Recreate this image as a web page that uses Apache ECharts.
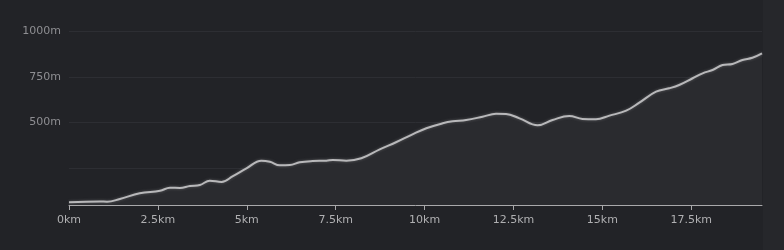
<!DOCTYPE html>
<html><head><meta charset="utf-8">
<script src="https://cdn.jsdelivr.net/npm/echarts@6/dist/echarts.min.js"></script>
<style>
html,body{margin:0;padding:0;background:#26272b;}
#c{width:763px;height:250px;background:#222327;}
</style></head>
<body><div id="c"></div>
<script>
const distanceKm = [0,0.87,1.07,1.43,1.99,2.56,2.84,3.12,3.40,3.68,3.96,4.29,4.61,4.99,5.41,5.65,5.93,6.21,6.49,6.85,7.24,7.42,7.80,8.22,8.74,9.21,9.66,10.05,10.51,10.79,11.17,11.63,12.01,12.29,12.67,13.18,13.60,14.07,14.44,14.82,15.20,15.67,16.04,16.51,16.88,17.16,17.54,17.82,18.10,18.38,18.66,18.94,19.22,19.49];
const elevationM = [65,69,68,83,114,128,144,143,154,159,183,176,208,250,292,286,267,268,283,290,292,296,292,305,354,394,436,469,496,507,514,532,548,547,523,485,514,536,520,518,538,565,609,669,687,705,742,769,787,814,820,842,854,878];
const yGridValues = [250,500,750,1000];
const yLabelValues = [500,750,1000];
const xTickKm = [0,2.5,5,7.5,10,12.5,15,17.5];

const data = distanceKm.map((d,i)=>[d,elevationM[i]]);
const chart = echarts.init(document.getElementById('c'));
chart.setOption({
  backgroundColor:'#222327',
  animation:false,
  grid:{left:69,right:1,top:31,bottom:45},
  xAxis:{type:'value',min:0,max:19.49,
    axisLine:{lineStyle:{color:'#a9a9ab',width:1}},
    axisTick:{show:true,length:5,lineStyle:{color:'#a9a9ab'},customValues:xTickKm},
    axisLabel:{color:'#b0b0b2',fontSize:11,fontFamily:'DejaVu Sans',margin:10,customValues:xTickKm,
      formatter:v=> v+'km'},
    splitLine:{show:false}},
  yAxis:{type:'value',min:50,max:1000,
    axisLine:{show:false},axisTick:{show:false},
    axisLabel:{color:'#8e8e92',fontSize:11,fontFamily:'DejaVu Sans',margin:8,customValues:yLabelValues,
      formatter:v=> v+'m'},
    splitLine:{show:false}},
  series:[
    {type:'line',data:[],z:0,silent:true,
      markLine:{z:0,silent:true,symbol:'none',label:{show:false},animation:false,
        lineStyle:{color:'#2d2e33',width:1,type:'solid'},
        data:yGridValues.map(v=>({yAxis:v}))}},
    {type:'line',data:data,z:3,smooth:0.4,symbol:'none',
    lineStyle:{color:'#b8b8ba',width:2,shadowColor:'rgba(200,200,200,0.35)',shadowBlur:3},
    areaStyle:{color:'#2a2b2f',opacity:1}}]
});
</script></body></html>
